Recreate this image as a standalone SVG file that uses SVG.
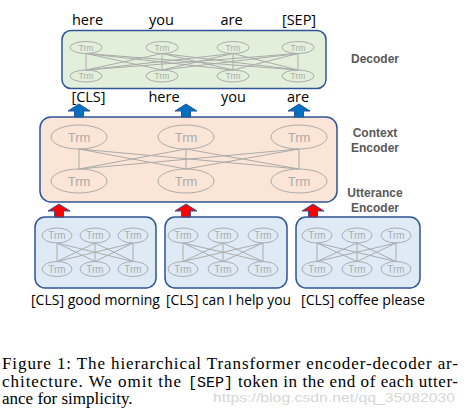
<svg xmlns="http://www.w3.org/2000/svg" width="464" height="411" viewBox="0 0 464 411">
<style>
.box{stroke:#2F5597;stroke-width:1.5}
.trm{fill:none;stroke:#ABABAB;stroke-width:1}
.tt{font-family:"Liberation Sans",Arial,sans-serif;fill:#ABABAB;text-anchor:middle}
.ln{stroke:#ABABAB;stroke-width:1;fill:none}
.lbl{font-family:"Open Sans","Liberation Sans",Arial,sans-serif;font-size:14.5px;fill:#000;text-anchor:middle}
.side{font-family:"Liberation Sans",Arial,sans-serif;font-size:12px;font-weight:bold;fill:#595959;text-anchor:middle}
.cap{font-family:"Liberation Serif","Times New Roman",serif;font-size:17px;fill:#000}
.mono{font-family:"Liberation Mono","Courier New",monospace;font-size:15px;fill:#000}
.wm{font-family:"Liberation Sans",Arial,sans-serif;font-size:13px;fill:#D6D6D6}
</style>
<defs>
<path id="up" d="M0,0 L11,7 L4.5,7 L4.5,13 L-4.5,13 L-4.5,7 L-11,7 Z" stroke="#2F5597" stroke-width="1"/>
</defs>

<g id="decoder">
<rect class="box" x="62" y="30.5" width="264" height="58" rx="9" fill="#E2EFDA"/>
<g class="ln">
<path d="M86,53.5L86,70M86,53.5L162,70M86,53.5L233,70M86,53.5L298,70M162,53.5L86,70M162,53.5L162,70M162,53.5L233,70M162,53.5L298,70M233,53.5L86,70M233,53.5L162,70M233,53.5L233,70M233,53.5L298,70M298,53.5L86,70M298,53.5L162,70M298,53.5L233,70M298,53.5L298,70"/>
</g>
<g class="trm">
<ellipse cx="86" cy="47.5" rx="16" ry="6"/><ellipse cx="162" cy="47.5" rx="16" ry="6"/><ellipse cx="233" cy="47.5" rx="16" ry="6"/><ellipse cx="298" cy="47.5" rx="16" ry="6"/>
<ellipse cx="86" cy="76" rx="16" ry="6"/><ellipse cx="162" cy="76" rx="16" ry="6"/><ellipse cx="233" cy="76" rx="16" ry="6"/><ellipse cx="298" cy="76" rx="16" ry="6"/>
</g>
<g class="tt" font-size="8.5">
<text x="86" y="50.5">Trm</text><text x="162" y="50.5">Trm</text><text x="233" y="50.5">Trm</text><text x="298" y="50.5">Trm</text>
<text x="86" y="79">Trm</text><text x="162" y="79">Trm</text><text x="233" y="79">Trm</text><text x="298" y="79">Trm</text>
</g>
</g>

<g id="decoder-outputs" class="lbl">
<text x="87.5" y="25">here</text><text x="161.5" y="25">you</text><text x="231.5" y="25">are</text><text x="299" y="25">[SEP]</text>
</g>

<g id="context-encoder">
<rect class="box" x="40" y="117" width="297" height="85" rx="11" fill="#FBE5D6"/>
<g class="ln">
<path d="M79,149L79,169M79,149L186,169M79,149L299,169M186,149L79,169M186,149L186,169M186,149L299,169M299,149L79,169M299,149L186,169M299,149L299,169"/>
</g>
<g class="trm">
<ellipse cx="79" cy="137" rx="28" ry="12"/><ellipse cx="186" cy="137" rx="28" ry="12"/><ellipse cx="299" cy="137" rx="28" ry="12"/>
<ellipse cx="79" cy="181" rx="28" ry="12"/><ellipse cx="186" cy="181" rx="28" ry="12"/><ellipse cx="299" cy="181" rx="28" ry="12"/>
</g>
<g class="tt" font-size="13">
<text x="79" y="141.5">Trm</text><text x="186" y="141.5">Trm</text><text x="299" y="141.5">Trm</text>
<text x="79" y="185.5">Trm</text><text x="186" y="185.5">Trm</text><text x="299" y="185.5">Trm</text>
</g>
</g>

<g id="decoder-inputs" class="lbl">
<text x="88.5" y="102">[CLS]</text><text x="164" y="102">here</text><text x="233.5" y="102">you</text><text x="298" y="102">are</text>
</g>

<g id="utterance-1">
<rect class="box" x="35" y="217" width="121" height="71" rx="10" fill="#DEEBF7"/>
<g class="ln"><path d="M57,243L57,261.5M57,243L95,261.5M57,243L133,261.5M95,243L57,261.5M95,243L95,261.5M95,243L133,261.5M133,243L57,261.5M133,243L95,261.5M133,243L133,261.5"/></g>
<g class="trm">
<ellipse cx="57" cy="235.5" rx="15" ry="7.5"/><ellipse cx="95" cy="235.5" rx="15" ry="7.5"/><ellipse cx="133" cy="235.5" rx="15" ry="7.5"/>
<ellipse cx="57" cy="269" rx="15" ry="7.5"/><ellipse cx="95" cy="269" rx="15" ry="7.5"/><ellipse cx="133" cy="269" rx="15" ry="7.5"/>
</g>
<g class="tt" font-size="10">
<text x="57" y="239">Trm</text><text x="95" y="239">Trm</text><text x="133" y="239">Trm</text>
<text x="57" y="272.5">Trm</text><text x="95" y="272.5">Trm</text><text x="133" y="272.5">Trm</text>
</g>
</g>

<g id="utterance-2">
<rect class="box" x="165" y="217" width="122" height="71" rx="10" fill="#DEEBF7"/>
<g class="ln"><path d="M183,243L183,261.5M183,243L223,261.5M183,243L263,261.5M223,243L183,261.5M223,243L223,261.5M223,243L263,261.5M263,243L183,261.5M263,243L223,261.5M263,243L263,261.5"/></g>
<g class="trm">
<ellipse cx="183" cy="235.5" rx="15" ry="7.5"/><ellipse cx="223" cy="235.5" rx="15" ry="7.5"/><ellipse cx="263" cy="235.5" rx="15" ry="7.5"/>
<ellipse cx="183" cy="269" rx="15" ry="7.5"/><ellipse cx="223" cy="269" rx="15" ry="7.5"/><ellipse cx="263" cy="269" rx="15" ry="7.5"/>
</g>
<g class="tt" font-size="10">
<text x="183" y="239">Trm</text><text x="223" y="239">Trm</text><text x="263" y="239">Trm</text>
<text x="183" y="272.5">Trm</text><text x="223" y="272.5">Trm</text><text x="263" y="272.5">Trm</text>
</g>
</g>

<g id="utterance-3">
<rect class="box" x="296" y="217" width="124" height="71" rx="10" fill="#DEEBF7"/>
<g class="ln"><path d="M317,243L317,261.5M317,243L357,261.5M317,243L396,261.5M357,243L317,261.5M357,243L357,261.5M357,243L396,261.5M396,243L317,261.5M396,243L357,261.5M396,243L396,261.5"/></g>
<g class="trm">
<ellipse cx="317" cy="235.5" rx="15" ry="7.5"/><ellipse cx="357" cy="235.5" rx="15" ry="7.5"/><ellipse cx="396" cy="235.5" rx="15" ry="7.5"/>
<ellipse cx="317" cy="269" rx="15" ry="7.5"/><ellipse cx="357" cy="269" rx="15" ry="7.5"/><ellipse cx="396" cy="269" rx="15" ry="7.5"/>
</g>
<g class="tt" font-size="10">
<text x="317" y="239">Trm</text><text x="357" y="239">Trm</text><text x="396" y="239">Trm</text>
<text x="317" y="272.5">Trm</text><text x="357" y="272.5">Trm</text><text x="396" y="272.5">Trm</text>
</g>
</g>

<g id="connectors">
<use href="#up" transform="translate(79,104)" fill="#0070C0"/>
<use href="#up" transform="translate(186,104)" fill="#0070C0"/>
<use href="#up" transform="translate(299,104)" fill="#0070C0"/>
<use href="#up" transform="translate(59,204)" fill="#FF0000"/>
<use href="#up" transform="translate(186,204)" fill="#FF0000"/>
<use href="#up" transform="translate(313,204)" fill="#FF0000"/>
</g>

<g id="inputs" class="lbl">
<text x="95.5" y="305" textLength="129" lengthAdjust="spacingAndGlyphs">[CLS] good morning</text>
<text x="228.5" y="305" textLength="125" lengthAdjust="spacingAndGlyphs">[CLS] can I help you</text>
<text x="363" y="305" textLength="124" lengthAdjust="spacingAndGlyphs">[CLS] coffee please</text>
</g>

<g id="side-labels" class="side">
<text x="375" y="63">Decoder</text>
<text x="375" y="137">Context</text>
<text x="375" y="152">Encoder</text>
<text x="375" y="197">Utterance</text>
<text x="375" y="212">Encoder</text>
</g>

<g id="caption">
<text class="cap" x="2" y="369" textLength="456" lengthAdjust="spacing">Figure 1: The hierarchical Transformer encoder-decoder ar-</text>
<text class="cap" x="2" y="386.5" textLength="179" lengthAdjust="spacing">chitecture. We omit the</text>
<text class="mono" x="188" y="386.5" textLength="45" lengthAdjust="spacingAndGlyphs">[SEP]</text>
<text class="cap" x="238" y="386.5" textLength="220" lengthAdjust="spacing">token in the end of each utter-</text>
<text class="cap" x="2" y="404">ance for simplicity.</text>
<text class="wm" x="213" y="402" textLength="242" lengthAdjust="spacingAndGlyphs">https://blog.csdn.net/qq_35082030</text>
</g>
</svg>
